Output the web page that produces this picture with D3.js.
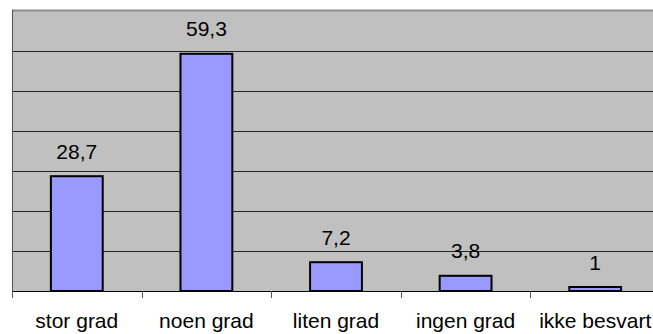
<!DOCTYPE html>
<html>
<head>
<meta charset="utf-8">
<script src="https://cdn.jsdelivr.net/npm/d3@7"></script>
<style>
  html, body { margin: 0; padding: 0; background: #fff; }
  svg { display: block; }
  text { font-family: "Liberation Sans", Arial, sans-serif; fill: #000; }
</style>
</head>
<body>
<div id="chart"></div>
<script>
// Survey answers, share in percent
const categories = ["stor grad", "noen grad", "liten grad", "ingen grad", "ikke besvart"];
const values = [28.7, 59.3, 7.2, 3.8, 1];
const valueLabels = ["28,7", "59,3", "7,2", "3,8", "1"];
const gridTicks = [10, 20, 30, 40, 50, 60];

const width = 653, height = 334;
const plot = { left: 12, top: 11, bottom: 291, step: 129.6 };
const plotRight = plot.left + plot.step * categories.length;

const svg = d3.select("#chart").append("svg")
  .attr("width", width).attr("height", height);

const x = d3.scaleBand()
  .domain(categories)
  .range([plot.left, plotRight])
  .paddingInner(0.6)
  .paddingOuter(0.3);

const y = d3.scaleLinear().domain([0, 70]).range([plot.bottom, plot.top]);

// plot background
svg.append("rect")
  .attr("x", plot.left).attr("y", y(70) - 1)
  .attr("width", plotRight - plot.left).attr("height", y(0) - y(70) + 1)
  .attr("fill", "#c0c0c0");

// top border
svg.append("line")
  .attr("x1", plot.left).attr("x2", plotRight)
  .attr("y1", y(70) - 0.5).attr("y2", y(70) - 0.5)
  .attr("stroke", "#8a8a8a").attr("stroke-width", 2);

// horizontal gridlines
svg.append("g").selectAll("line").data(gridTicks).join("line")
  .attr("x1", plot.left).attr("x2", plotRight)
  .attr("y1", d => Math.round(y(d)) + 0.5).attr("y2", d => Math.round(y(d)) + 0.5)
  .attr("stroke", "#222").attr("stroke-width", 1);

// bars
svg.append("g").selectAll("rect").data(values).join("rect")
  .attr("x", (d, i) => x(categories[i]))
  .attr("width", x.bandwidth())
  .attr("y", d => y(d))
  .attr("height", d => y(0) - y(d))
  .attr("fill", "#9999ff")
  .attr("stroke", "#000")
  .attr("stroke-width", 2);

// value labels
svg.append("g").selectAll("text").data(values).join("text")
  .attr("x", (d, i) => x(categories[i]) + x.bandwidth() / 2)
  .attr("y", d => y(d) - 17.5)
  .attr("text-anchor", "middle")
  .attr("font-size", 21)
  .text((d, i) => valueLabels[i]);

// left axis line
svg.append("line")
  .attr("x1", plot.left + 0.5).attr("x2", plot.left + 0.5)
  .attr("y1", y(70) - 1).attr("y2", plot.bottom + 7)
  .attr("stroke", "#555").attr("stroke-width", 1);

// bottom axis line
svg.append("line")
  .attr("x1", plot.left).attr("x2", plotRight)
  .attr("y1", plot.bottom + 0.5).attr("y2", plot.bottom + 0.5)
  .attr("stroke", "#000").attr("stroke-width", 1);

// category ticks at band boundaries
const boundaries = d3.range(categories.length + 1).map(i => plot.left + i * x.step());
svg.append("g").selectAll("line").data(boundaries).join("line")
  .attr("x1", d => Math.round(d) + 0.5).attr("x2", d => Math.round(d) + 0.5)
  .attr("y1", plot.bottom).attr("y2", plot.bottom + 7)
  .attr("stroke", "#555").attr("stroke-width", 1);

// category labels
svg.append("g").selectAll("text").data(categories).join("text")
  .attr("x", d => x(d) + x.bandwidth() / 2)
  .attr("y", 328)
  .attr("text-anchor", "middle")
  .attr("font-size", 21)
  .text(d => d);
</script>
</body>
</html>
